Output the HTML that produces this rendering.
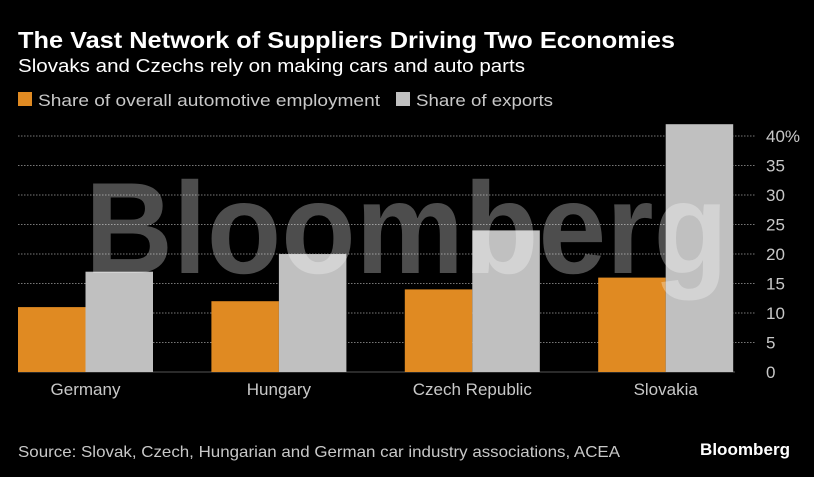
<!DOCTYPE html>
<html><head><meta charset="utf-8"><style>
html,body{margin:0;padding:0;background:#000;}
svg{display:block;font-family:"Liberation Sans",sans-serif;}
</style></head><body>
<svg id="chart" width="814" height="477" viewBox="0 0 814 477">
<rect width="814" height="477" fill="#000"/>
<text x="18" y="48" fill="#fff" font-size="23" font-weight="bold" textLength="657" lengthAdjust="spacingAndGlyphs">The Vast Network of Suppliers Driving Two Economies</text>
<text x="18" y="72" fill="#fff" font-size="18" textLength="507" lengthAdjust="spacingAndGlyphs">Slovaks and Czechs rely on making cars and auto parts</text>
<rect x="18" y="92" width="14" height="14" fill="#e08a22"/>
<text x="38" y="106" fill="#c8c8c8" font-size="17" textLength="342" lengthAdjust="spacingAndGlyphs">Share of overall automotive employment</text>
<rect x="396" y="92" width="14" height="14" fill="#c0c0c0"/>
<text x="416" y="106" fill="#c8c8c8" font-size="17" textLength="137" lengthAdjust="spacingAndGlyphs">Share of exports</text>
<g id="grid"></g>
<g id="bars"></g>
<text x="85" y="273" fill="#fff" fill-opacity="0.3" font-size="130" font-weight="bold" textLength="643" lengthAdjust="spacingAndGlyphs">Bloomberg</text>
<g id="labels"></g>
<text x="18" y="457" fill="#c8c8c8" font-size="16" textLength="602" lengthAdjust="spacingAndGlyphs">Source: Slovak, Czech, Hungarian and German car industry associations, ACEA</text>
<text x="700" y="455" fill="#fff" font-size="17" font-weight="bold" textLength="90" lengthAdjust="spacingAndGlyphs">Bloomberg</text>
</svg>
<script>
const categories = ["Germany","Hungary","Czech Republic","Slovakia"];
const employment = [11,12,14,16];
const exportsShare = [17,20,24,42];
const yTicks = [0,5,10,15,20,25,30,35,40];
const tickLabels = ["0","5","10","15","20","25","30","35","40%"];

const NS="http://www.w3.org/2000/svg";
const y0=372, pxPer=5.9;
function yScale(v){return y0-v*pxPer;}
function xGroup(i){return 18+i*193.4;}
const barW=67.5;
const grid=document.getElementById('grid'), bars=document.getElementById('bars'), labels=document.getElementById('labels');

yTicks.forEach((t,i)=>{
  const y=yScale(t);
  if(t>0){
    const l=document.createElementNS(NS,'line');
    l.setAttribute('x1',18);l.setAttribute('x2',755);l.setAttribute('y1',y);l.setAttribute('y2',y);
    l.setAttribute('stroke','#777');l.setAttribute('stroke-width','1');l.setAttribute('stroke-dasharray','1.5 1.5');
    
    
    grid.appendChild(l);
  }
  const tx=document.createElementNS(NS,'text');
  tx.setAttribute('x',766);tx.setAttribute('y',y+6);tx.setAttribute('fill','#c8c8c8');tx.setAttribute('font-size','17');
  tx.textContent=tickLabels[i];
  
  
  labels.appendChild(tx);
});
const base=document.createElementNS(NS,'line');
base.setAttribute('x1',18);base.setAttribute('x2',735);base.setAttribute('y1',y0);base.setAttribute('y2',y0);
base.setAttribute('stroke','#555');


grid.appendChild(base);

categories.forEach((c,i)=>{
  const x=xGroup(i);
  const r1=document.createElementNS(NS,'rect');
  r1.setAttribute('x',x);r1.setAttribute('y',yScale(employment[i]));r1.setAttribute('width',barW);
  r1.setAttribute('height',y0-yScale(employment[i]));r1.setAttribute('fill','#e08a22');
  
  
  bars.appendChild(r1);
  const r2=document.createElementNS(NS,'rect');
  r2.setAttribute('x',x+barW);r2.setAttribute('y',yScale(exportsShare[i]));r2.setAttribute('width',barW);
  r2.setAttribute('height',y0-yScale(exportsShare[i]));r2.setAttribute('fill','#c0c0c0');
  
  
  bars.appendChild(r2);
  const t=document.createElementNS(NS,'text');
  t.setAttribute('x',x+barW);t.setAttribute('y',395);t.setAttribute('fill','#c8c8c8');t.setAttribute('font-size','17');
  t.setAttribute('text-anchor','middle');
  t.textContent=c;
  
  
  labels.appendChild(t);
});
</script>
</body></html>
